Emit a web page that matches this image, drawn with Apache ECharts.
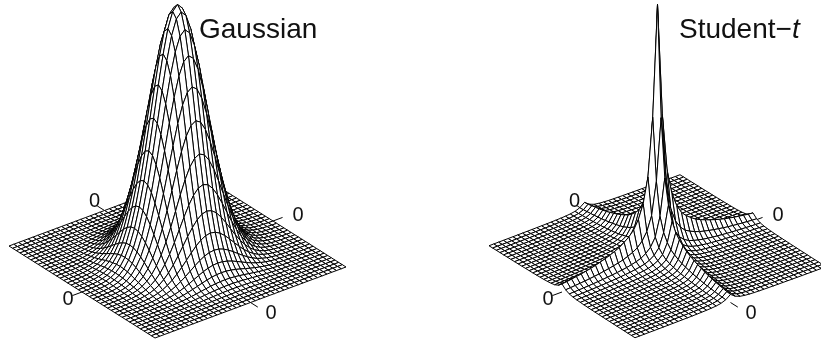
<!DOCTYPE html>
<html><head><meta charset="utf-8">
<style>html,body{margin:0;padding:0;background:#fff}#c{width:821px;height:345px}</style>
<script src="https://cdn.jsdelivr.net/npm/echarts@6/dist/echarts.min.js"></script>
</head><body><div id="c"></div>
<script>
// Half-profiles, from the centre line (index 0) out to the edge (index 20), relative to peak height
const gaussianProfile = [1,.979,.918,.824,.709,.584,.461,.349,.253,.175,.116,.074,.045,.026,.015,.008,.004,.002,.001,0,0];
const studentProfile  = [1,.56,.33,.23,.175,.14,.12,.105,.092,.083,.075,.068,.062,.056,.051,.047,.043,.04,.037,.034,.032];
const peakHeight = 252;
const plotTitles = ['Gaussian','Student−'];
const plotTitleItalic = 't';
const tickLabels = ['0','0','0','0'];
const CELLS = 40;
const EDGE_A = [146,92], EDGE_B = [191,-71];
const ORIGIN_LEFT = [9,246], ORIGIN_RIGHT = [489,246];

function height(profile,i,j){
  return peakHeight*profile[Math.abs(i-CELLS/2)]*profile[Math.abs(j-CELLS/2)];
}
function project(origin,i,j,z){
  return [origin[0]+EDGE_A[0]*i/CELLS+EDGE_B[0]*j/CELLS,
          origin[1]+EDGE_A[1]*i/CELLS+EDGE_B[1]*j/CELLS-z];
}
function cellData(){
  const d=[];
  for(let i=0;i<CELLS;i++) for(let j=CELLS-1;j>=0;j--) d.push([i,j]);
  return d;
}
function surfaceSeries(origin,profile){
  return {type:'custom',coordinateSystem:'cartesian2d',clip:false,silent:true,animation:false,
    progressive:0,
    encode:{x:0,y:1},
    data:cellData(),
    renderItem(params,api){
      const i=api.value(0),j=api.value(1);
      const pts=[[i,j],[i+1,j],[i+1,j+1],[i,j+1]].map(([a,b])=>
        api.coord(project(origin,a,b,height(profile,a,b))));
      return {type:'polygon',shape:{points:pts},
        style:{fill:'#fff',stroke:'#000',lineWidth:1,lineJoin:'round'}};
    }};
}
// Each tick: edge mid-point in grid units, outward direction in grid units, label offset in px
const ticks = [
  {at:[20,0],  dir:[0,-2], off:[-14,7.5]},
  {at:[0,20],  dir:[-2,0], off:[-10,-9]},
  {at:[20,40], dir:[0,2],  off:[25,-6]},
  {at:[40,20], dir:[2,0],  off:[20.5,10.5]}
];
function tickSeries(origin){
  return {type:'custom',coordinateSystem:'cartesian2d',clip:false,silent:true,animation:false,
    encode:{x:0,y:1},
    data:ticks.map((t,k)=>[k,0]),
    renderItem(params,api){
      const t=ticks[api.value(0)];
      const a=project(origin,t.at[0],t.at[1],0);
      const b=project(origin,t.at[0]+t.dir[0],t.at[1]+t.dir[1],0);
      const p=api.coord(a),q=api.coord(b);
      const l=api.coord([a[0]+t.off[0],a[1]+t.off[1]]);
      return {type:'group',children:[
        {type:'line',shape:{x1:p[0],y1:p[1],x2:q[0],y2:q[1]},style:{stroke:'#000',lineWidth:1}},
        {type:'text',style:{text:tickLabels[api.value(0)],x:l[0],y:l[1],align:'center',verticalAlign:'middle',
          font:'20px "Liberation Sans"',fill:'#111'}}
      ]};
    }};
}
const chart=echarts.init(document.getElementById('c'),null,{renderer:'canvas'});
chart.setOption({
  animation:false,
  backgroundColor:'#fff',
  title:[
    {text:plotTitles[0],left:199,top:16,padding:0,textStyle:{fontFamily:'Liberation Sans',fontWeight:'normal',fontSize:28,color:'#111'}},
    {text:'{r|'+plotTitles[1]+'}{i|'+plotTitleItalic+'}',left:679,top:16,padding:0,textStyle:{fontWeight:'normal',rich:{
      r:{fontFamily:'Liberation Sans',fontWeight:'normal',fontSize:28,color:'#111'},
      i:{fontFamily:'Liberation Sans',fontWeight:'normal',fontStyle:'italic',fontSize:28,color:'#111'}}}}
  ],
  grid:{left:0,right:0,top:0,bottom:0},
  xAxis:{type:'value',min:0,max:821,show:false},
  yAxis:{type:'value',min:0,max:345,inverse:true,show:false},
  series:[tickSeries(ORIGIN_LEFT),tickSeries(ORIGIN_RIGHT),
    surfaceSeries(ORIGIN_LEFT,gaussianProfile),surfaceSeries(ORIGIN_RIGHT,studentProfile)]
});
</script></body></html>
